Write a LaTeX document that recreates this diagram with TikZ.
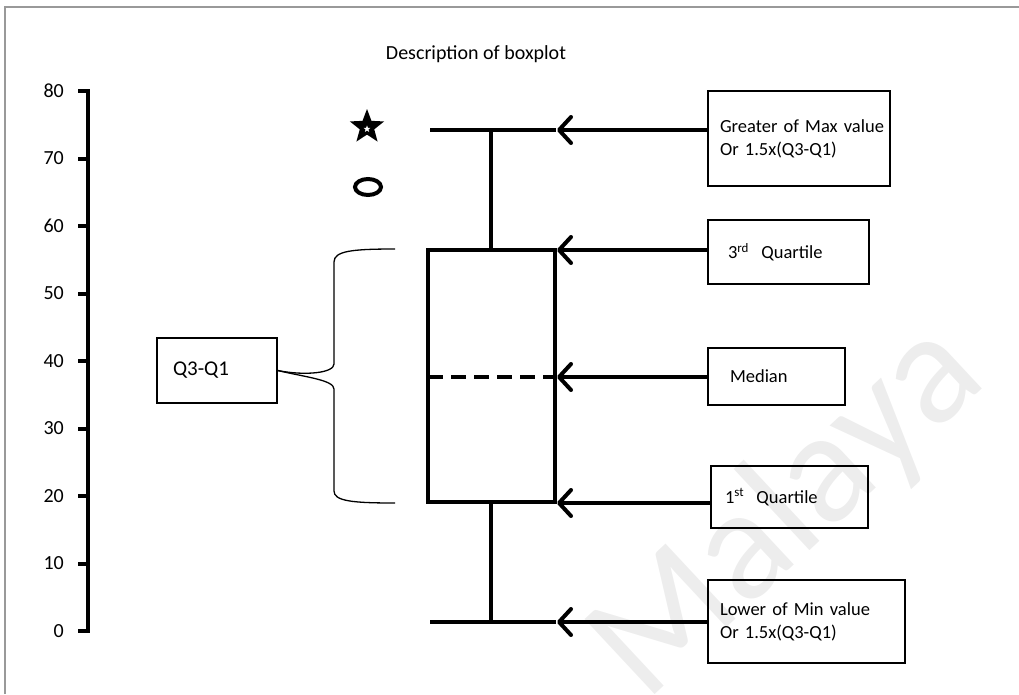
\documentclass[tikz,border=0pt]{standalone}
\usepackage{fontspec}
\setmainfont{Carlito}
\usetikzlibrary{arrows.meta,calc}
\begin{document}
\begin{tikzpicture}[x=1pt,y=-1pt,
  every node/.style={font=\fontsize{18.5}{23}\selectfont},
  heavy/.style={line width=4pt},
  lblbox/.style={draw, line width=1.4pt, align=left, inner ysep=0pt},
  pointer/.style={line width=4pt, -{Straight Barb[length=12pt,width=26pt,round]}},
  axlabel/.style={anchor=east, inner sep=0pt, font=\fontsize{20}{24}\selectfont},
  bracepath/.style={line width=1.3pt}]
\useasboundingbox (0,0) rectangle (1019,694);
% watermark
\node[rotate=43, text=black!7, font=\fontsize{160}{160}\selectfont] (wm) at (788,512) {Malaya};
% frame
\draw[black!40, line width=2pt] (5,694) -- (5,7) -- (1019,7);
% title
\node[font=\fontsize{20}{24}\selectfont] (title) at (476,54) {Description of boxplot};
% axis
\draw[heavy] (88,89) -- (88,633);
\foreach \v in {0,10,...,80} {
  \draw[heavy] (78,631-6.75*\v) -- (90,631-6.75*\v);
  \node[axlabel] (ax\v) at (64,631-6.75*\v) {\v};
}
% outliers
\coordinate (sc) at (367,127);
\fill ($(sc)+(-90:18)$) \foreach \k in {1,...,9} { -- ($(sc)+({-90+36*\k}:{ifthenelse(mod(\k,2)==0,18,7.6)})$) } -- cycle;
\coordinate (sc2) at (367,129);
\fill[white] ($(sc2)+(-90:3.6)$) \foreach \k in {1,...,9} { -- ($(sc2)+({-90+36*\k}:{ifthenelse(mod(\k,2)==0,3.6,1.5)})$) } -- cycle;
\draw[heavy] (368,187) ellipse [x radius=13, y radius=8];
% box plot
\coordinate (wtop) at (491,130);
\coordinate (q3) at (491,250);
\coordinate (q1) at (491,502);
\coordinate (wbot) at (491,622);
\draw[heavy] (430,130) -- (556,130);
\draw[heavy] (wtop) -- (q3);
\draw[heavy] (428,250) rectangle (555,502);
\draw[heavy, dash pattern=on 15pt off 8pt] (428,377) -- (555,377);
\draw[heavy] (q1) -- (wbot);
\draw[heavy] (430,622) -- (556,622);
% label boxes
\node[lblbox, minimum width=182pt, minimum height=95pt, text width=170pt, inner xsep=6pt] (bmax) at (799,138.5) {\hspace*{6pt}Greater of Max value\\\hspace*{6pt}Or 1.5x(Q3-Q1)};
\node[lblbox, minimum width=161pt, minimum height=64pt, text width=121pt, inner xsep=20pt] (bq3) at (788.5,252) {3\textsuperscript{rd}\ \ Quartile};
\node[lblbox, minimum width=137pt, minimum height=57pt, text width=93pt, inner xsep=22pt] (bmed) at (776.5,376.5) {Median};
\node[lblbox, minimum width=157pt, minimum height=62pt, text width=129pt, inner xsep=14pt] (bq1) at (789.5,497) {1\textsuperscript{st}\ \ Quartile};
\node[lblbox, minimum width=197pt, minimum height=83pt, text width=173pt, inner xsep=12pt] (bmin) at (806.5,621.5) {Lower of Min value\\Or 1.5x(Q3-Q1)};
\node[lblbox, minimum width=120pt, minimum height=65pt, text width=100pt, inner xsep=10pt, font=\fontsize{21}{25}\selectfont] (biqr) at (217,370.5) {\hspace*{6pt}Q3-Q1};
% arrows
\coordinate (amax) at (557,130);
\coordinate (aq3) at (557,250);
\coordinate (amed) at (557,377);
\coordinate (aq1) at (557,503);
\coordinate (amin) at (557,622);
\draw[pointer] (bmax.west |- amax) -- (amax);
\draw[pointer] (bq3.west |- aq3) -- (aq3);
\draw[pointer] (bmed.west |- amed) -- (amed);
\draw[pointer] (bq1.west |- aq1) -- (aq1);
\draw[pointer] (bmin.west |- amin) -- (amin);
% brace
\coordinate (btop) at (395,249);
\coordinate (bbot) at (395,503);
\draw[bracepath] (btop) .. controls (352,249) and (334,251) .. (334,262) -- (334,364) .. controls (334,373) and (305,376) .. (biqr.east);
\draw[bracepath] (biqr.east) .. controls (305,377) and (334,380) .. (334,389) -- (334,491) .. controls (334,501) and (352,503) .. (bbot);
\end{tikzpicture}
\end{document}
